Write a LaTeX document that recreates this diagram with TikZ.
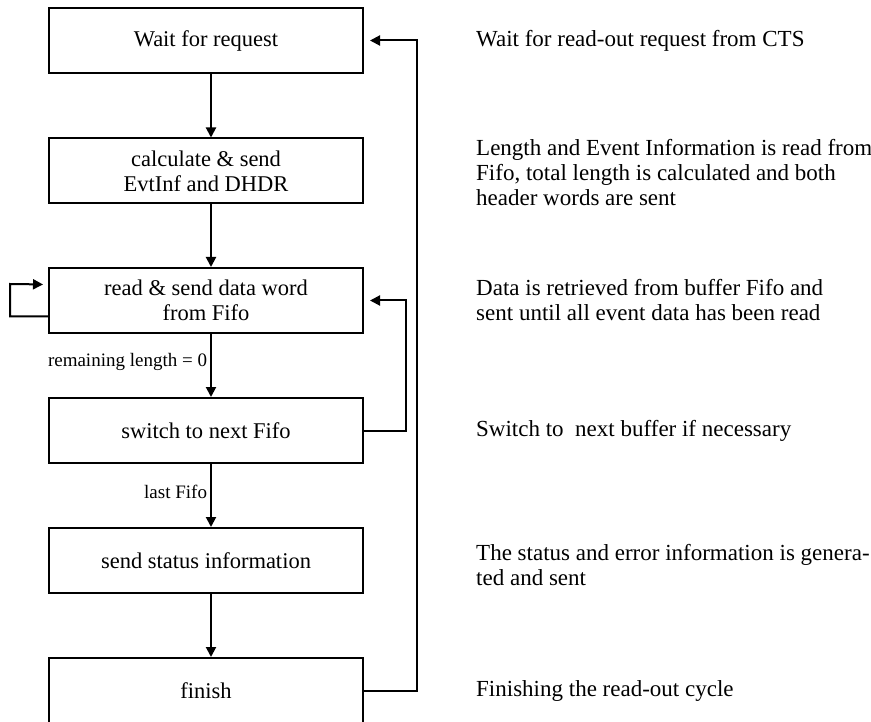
\documentclass[tikz,border=0pt]{standalone}
\usepackage{fontspec}
\setmainfont{Liberation Serif}
\usetikzlibrary{arrows.meta}

\tikzset{
    box/.style={draw, line width=2pt, minimum width=314pt, minimum height=65pt, align=center, inner sep=0pt},
    note/.style={anchor=west, align=left, inner sep=0pt, font=\fontsize{23}{25}\selectfont},
    flow/.style={line width=2pt, -{Triangle[length=10pt, width=10pt]}},
    cond/.style={left, inner sep=3pt, font=\fontsize{19}{22}\selectfont}
}

\begin{document}
\begin{tikzpicture}[x=1pt, y=-1pt, font=\fontsize{22.5}{25}\selectfont]
    \useasboundingbox (0, 0) rectangle (871, 722);

    \node [box] (wait) at (206, 40.5) {Wait for request};
    \node [box] (calc) at (206, 171) {calculate \& send\\EvtInf and DHDR};
    \node [box] (read) at (206, 300.5) {read \& send data word\\from Fifo};
    \node [box] (switch) at (206, 430.5) {switch to next Fifo};
    \node [box] (status) at (206, 560.5) {send status information};
    \node [box] (finish) at (206, 690.5) {finish};

    \draw [flow] ([xshift=5pt]wait.south) -- ([xshift=5pt]calc.north);
    \draw [flow] ([xshift=5pt]calc.south) -- ([xshift=5pt]read.north);
    \draw [flow] ([xshift=5pt]read.south) -- node [cond, pos=0.45] {remaining length = 0} ([xshift=5pt]switch.north);
    \draw [flow] ([xshift=5pt]switch.south) -- node [cond, pos=0.45] {last Fifo} ([xshift=5pt]status.north);
    \draw [flow] ([xshift=5pt]status.south) -- ([xshift=5pt]finish.north);

    \draw [flow, shorten >=5pt] ([yshift=-16pt]read.west) -| (10, 284) -- ([yshift=16pt]read.west);
    \draw [flow, shorten >=6pt] (switch.east) -| (406, 300.5) -- (read.east);
    \draw [flow, shorten >=6pt] (finish.east) -| (417, 40.5) -- (wait.east);

    \node [note] (n1) at (476, 40.5) {Wait for read-out request from CTS};
    \node [note] (n2) at (476, 173) {Length and Event Information is read from\\Fifo, total length is calculated and both\\header words are sent};
    \node [note] (n3) at (476, 300.5) {Data is retrieved from buffer Fifo and\\sent until all event data has been read};
    \node [note] (n4) at (476, 430.5) {Switch to \ next buffer if necessary};
    \node [note] (n5) at (476, 565) {The status and error information is genera-\\ted and sent};
    \node [note] (n6) at (476, 690.5) {Finishing the read-out cycle};
\end{tikzpicture}
\end{document}
